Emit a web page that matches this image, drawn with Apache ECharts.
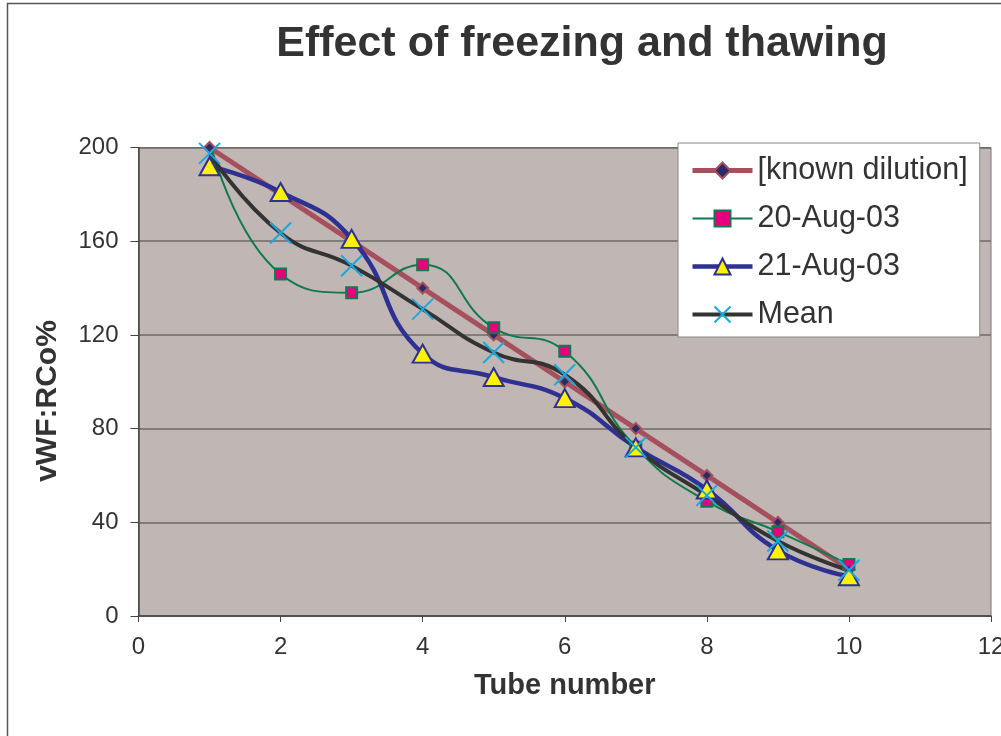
<!DOCTYPE html>
<html>
<head>
<meta charset="utf-8">
<script src="https://cdn.jsdelivr.net/npm/echarts@6/dist/echarts.min.js"></script>
<style>
html,body{margin:0;padding:0;background:#fff;overflow:hidden;}
#chart{width:1001px;height:736px;}
</style>
</head>
<body>
<div id="chart"></div>
<script>
const tubes = [1,2,3,4,5,6,7,8,9,10];
const knownDilution = [200,180,160,140,120,100,80,60,40,20];
const aug20 = [203,146,138,150,123,113,72,49,36,22];
const aug21 = [192,181,161,112,102,93,72,54,28,17];
const meanVals = [197.5,163.5,149.5,131,112.5,103,72,51.5,32,19.5];
const xTicks = [0,2,4,6,8,10,12];
const yTicks = [0,40,80,120,160,200];
const seriesNames = ['[known dilution]','20-Aug-03','21-Aug-03','Mean'];
const seriesColors = ['#A5505C','#0E7A4E','#2E3192','#333333'];
const seriesWidths = [5,2,4.5,4];

const pairs = arr => tubes.map((t,i)=>[t,arr[i]]);
const FONT = 'Liberation Sans, Arial, sans-serif';

const chart = echarts.init(document.getElementById('chart'), null, {renderer:'canvas'});
chart.setOption({
  animation:false,
  backgroundColor:'#fff',
  title:{
    text:'Effect of freezing and thawing',
    left:577, top:18, textAlign:'center',
    textStyle:{fontFamily:FONT,fontSize:43,fontWeight:'bold',color:'#333'}
  },
  graphic:[{
    type:'rect', silent:true, z:-10,
    shape:{x:7.5,y:3.5,width:1100,height:1000},
    style:{fill:'none',stroke:'#555',lineWidth:1.5}
  },{
    type:'text', silent:true, x:48, y:401, rotation:Math.PI/2,
    style:{text:'vWF:RCo%',fontFamily:FONT,fontSize:30,fontWeight:'bold',fill:'#333',
      align:'center',verticalAlign:'middle'}
  }],
  grid:{
    left:138.5, right:10, top:147.5, bottom:120,
    outerBoundsMode:'none', containLabel:false,
    show:true, backgroundColor:'#C0B7B4', borderColor:'#7a7474', borderWidth:1
  },
  legend:{
    orient:'vertical', left:678, top:143,
    padding:[12,12,7,12], itemWidth:60, itemHeight:20, itemGap:17,
    backgroundColor:'#fff', borderColor:'#888', borderWidth:1,
    textStyle:{fontFamily:FONT,fontSize:30.5,color:'#333',lineHeight:31},
    data:seriesNames.map((n,i)=>({name:n,lineStyle:{color:seriesColors[i],width:seriesWidths[i]}}))
  },
  xAxis:{
    type:'value', min:0, max:12, interval:2,
    name:'Tube number', nameLocation:'middle', nameGap:55,
    nameTextStyle:{fontFamily:FONT,fontSize:29,fontWeight:'bold',color:'#333'},
    axisLine:{show:true,onZero:false,lineStyle:{color:'#444',width:1.5}},
    axisTick:{show:true,length:6,lineStyle:{color:'#444'}},
    axisLabel:{fontFamily:FONT,fontSize:24,color:'#333',margin:19,
      formatter:v=>xTicks.includes(v)?String(v):''},
    splitLine:{show:false}
  },
  yAxis:{
    type:'value', min:0, max:200, interval:40,
    axisLine:{show:true,lineStyle:{color:'#444',width:1.5}},
    axisTick:{show:true,length:8,lineStyle:{color:'#444'}},
    axisLabel:{fontFamily:FONT,fontSize:24,color:'#333',margin:20,
      formatter:v=>yTicks.includes(v)?String(v):''},
    splitLine:{show:true,lineStyle:{color:'#6e6868',width:1.5}}
  },
  series:[
    {
      name:seriesNames[0], type:'line', data:pairs(knownDilution),
      lineStyle:{color:seriesColors[0],width:seriesWidths[0]},
      symbol:'diamond', symbolSize:11,
      itemStyle:{color:'#2B2A6B',borderColor:'#A5505C',borderWidth:2}
    },
    {
      name:seriesNames[1], type:'line', data:pairs(aug20), smooth:0.5,
      lineStyle:{color:seriesColors[1],width:seriesWidths[1]},
      symbol:'rect', symbolSize:11,
      itemStyle:{color:'#E6007E',borderColor:'#0E7A4E',borderWidth:2}
    },
    {
      name:seriesNames[2], type:'line', data:pairs(aug21), smooth:0.5,
      lineStyle:{color:seriesColors[2],width:seriesWidths[2]},
      symbol:'triangle', symbolSize:[20,18],
      itemStyle:{color:'#FFF200',borderColor:'#2E3192',borderWidth:2}
    },
    {
      name:seriesNames[3], type:'line', data:pairs(meanVals), smooth:0.5,
      lineStyle:{color:seriesColors[3],width:seriesWidths[3]},
      symbol:'path://M0,0L10,10M10,0L0,10', symbolSize:21, symbolKeepAspect:true,
      itemStyle:{color:'rgba(0,0,0,0)',borderColor:'#1BA8E0',borderWidth:2}
    }
  ]
});
</script>
</body>
</html>
